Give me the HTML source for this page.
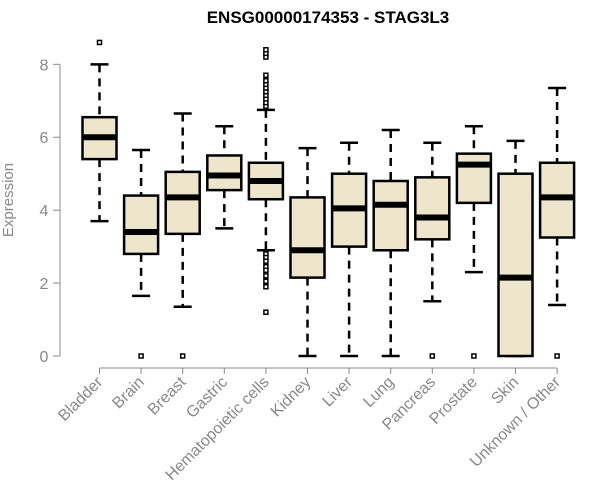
<!DOCTYPE html>
<html><head><meta charset="utf-8"><style>body{margin:0;background:#fff}svg{display:block;font-family:"Liberation Sans",Arial,sans-serif}</style></head>
<body>
<svg id="chart" width="600" height="500" viewBox="0 0 600 500">
<text x="328" y="23" text-anchor="middle" font-weight="bold" font-size="17">ENSG00000174353 - STAG3L3</text>
<text transform="translate(13,200) rotate(-90)" text-anchor="middle" font-size="15" fill="#888">Expression</text>
<g id="plot"></g>
</svg>
<script>
const categories=["Bladder","Brain","Breast","Gastric","Hematopoietic cells","Kidney","Liver","Lung","Pancreas","Prostate","Skin","Unknown / Other"];
const whiskerHigh=[8.0,5.65,6.65,6.3,6.75,5.7,5.85,6.2,5.85,6.3,5.9,7.35];
const q3=[6.55,4.4,5.05,5.5,5.3,4.35,5.0,4.8,4.9,5.55,5.0,5.3];
const medians=[6.0,3.4,4.35,4.95,4.8,2.9,4.05,4.15,3.8,5.25,2.15,4.35];
const q1=[5.4,2.8,3.35,4.55,4.3,2.15,3.0,2.9,3.2,4.2,0,3.25];
const whiskerLow=[3.7,1.65,1.35,3.5,2.9,0,0,0,1.5,2.3,0,1.4];
const outliers=[[8.6],[0],[0],[],[6.85,6.95,7.05,7.15,7.25,7.35,7.45,7.55,7.7,8.2,8.3,8.4,2.8,2.7,2.6,2.45,2.35,2.2,2.05,1.9,1.2],[],[],[],[0],[0],[],[0]];
const yTicks=[0,2,4,6,8];
const NS="http://www.w3.org/2000/svg";
const g=document.getElementById('plot');
const y=v=>356-v*36.46;
const x=i=>99.5+i*41.6;
function mk(t,a){const e=document.createElementNS(NS,t);for(const k in a)e.setAttribute(k,a[k]);g.appendChild(e);return e;}
let ax=mk('line',{x1:60,x2:60,y1:y(0),y2:y(8),stroke:'#888'});


yTicks.forEach(t=>{
 let l=mk('line',{x1:53,x2:60,y1:y(t),y2:y(t),stroke:'#888'});
 
 
 let tx=mk('text',{x:44,y:y(t)+6,'text-anchor':'middle','font-size':16,fill:'#888'});
 tx.textContent=t;
 
 
});
let bx=mk('line',{x1:x(0),x2:x(categories.length-1),y1:368,y2:368,stroke:'#888'});


categories.forEach((c,i)=>{
 const cx=x(i),w=17;
 let tk=mk('line',{x1:cx,x2:cx,y1:368,y2:374,stroke:'#888'});
 
 
 let lb=mk('text',{x:cx+4,y:383,'text-anchor':'end','font-size':16,fill:'#888',transform:`rotate(-45 ${cx+4} 383)`});
 lb.textContent=c;
 
 
 let wh=mk('line',{x1:cx,x2:cx,y1:y(whiskerHigh[i]),y2:y(q3[i]),stroke:'#000','stroke-width':2.5,'stroke-dasharray':'8,6'});
 
 
 let wl=mk('line',{x1:cx,x2:cx,y1:y(q1[i]),y2:y(whiskerLow[i]),stroke:'#000','stroke-width':2.5,'stroke-dasharray':'8,6'});
 
 
 [whiskerHigh[i],whiskerLow[i]].forEach(v=>{
  let cap=mk('line',{x1:cx-9,x2:cx+9,y1:y(v),y2:y(v),stroke:'#000','stroke-width':2.5});
  
  
 });
 let b=mk('rect',{x:cx-w,y:y(q3[i]),width:2*w,height:y(q1[i])-y(q3[i]),fill:'#ede6cc',stroke:'#000','stroke-width':2.5});
 
 
 let m=mk('line',{x1:cx-w,x2:cx+w,y1:y(medians[i]),y2:y(medians[i]),stroke:'#000','stroke-width':6});
 
 
 outliers[i].forEach(v=>{
  let o=mk('rect',{x:cx-2,y:y(v)-2,width:4,height:4,fill:'#fff',stroke:'#000','stroke-width':1.5});
  
  
 });
});
</script>
</body></html>
